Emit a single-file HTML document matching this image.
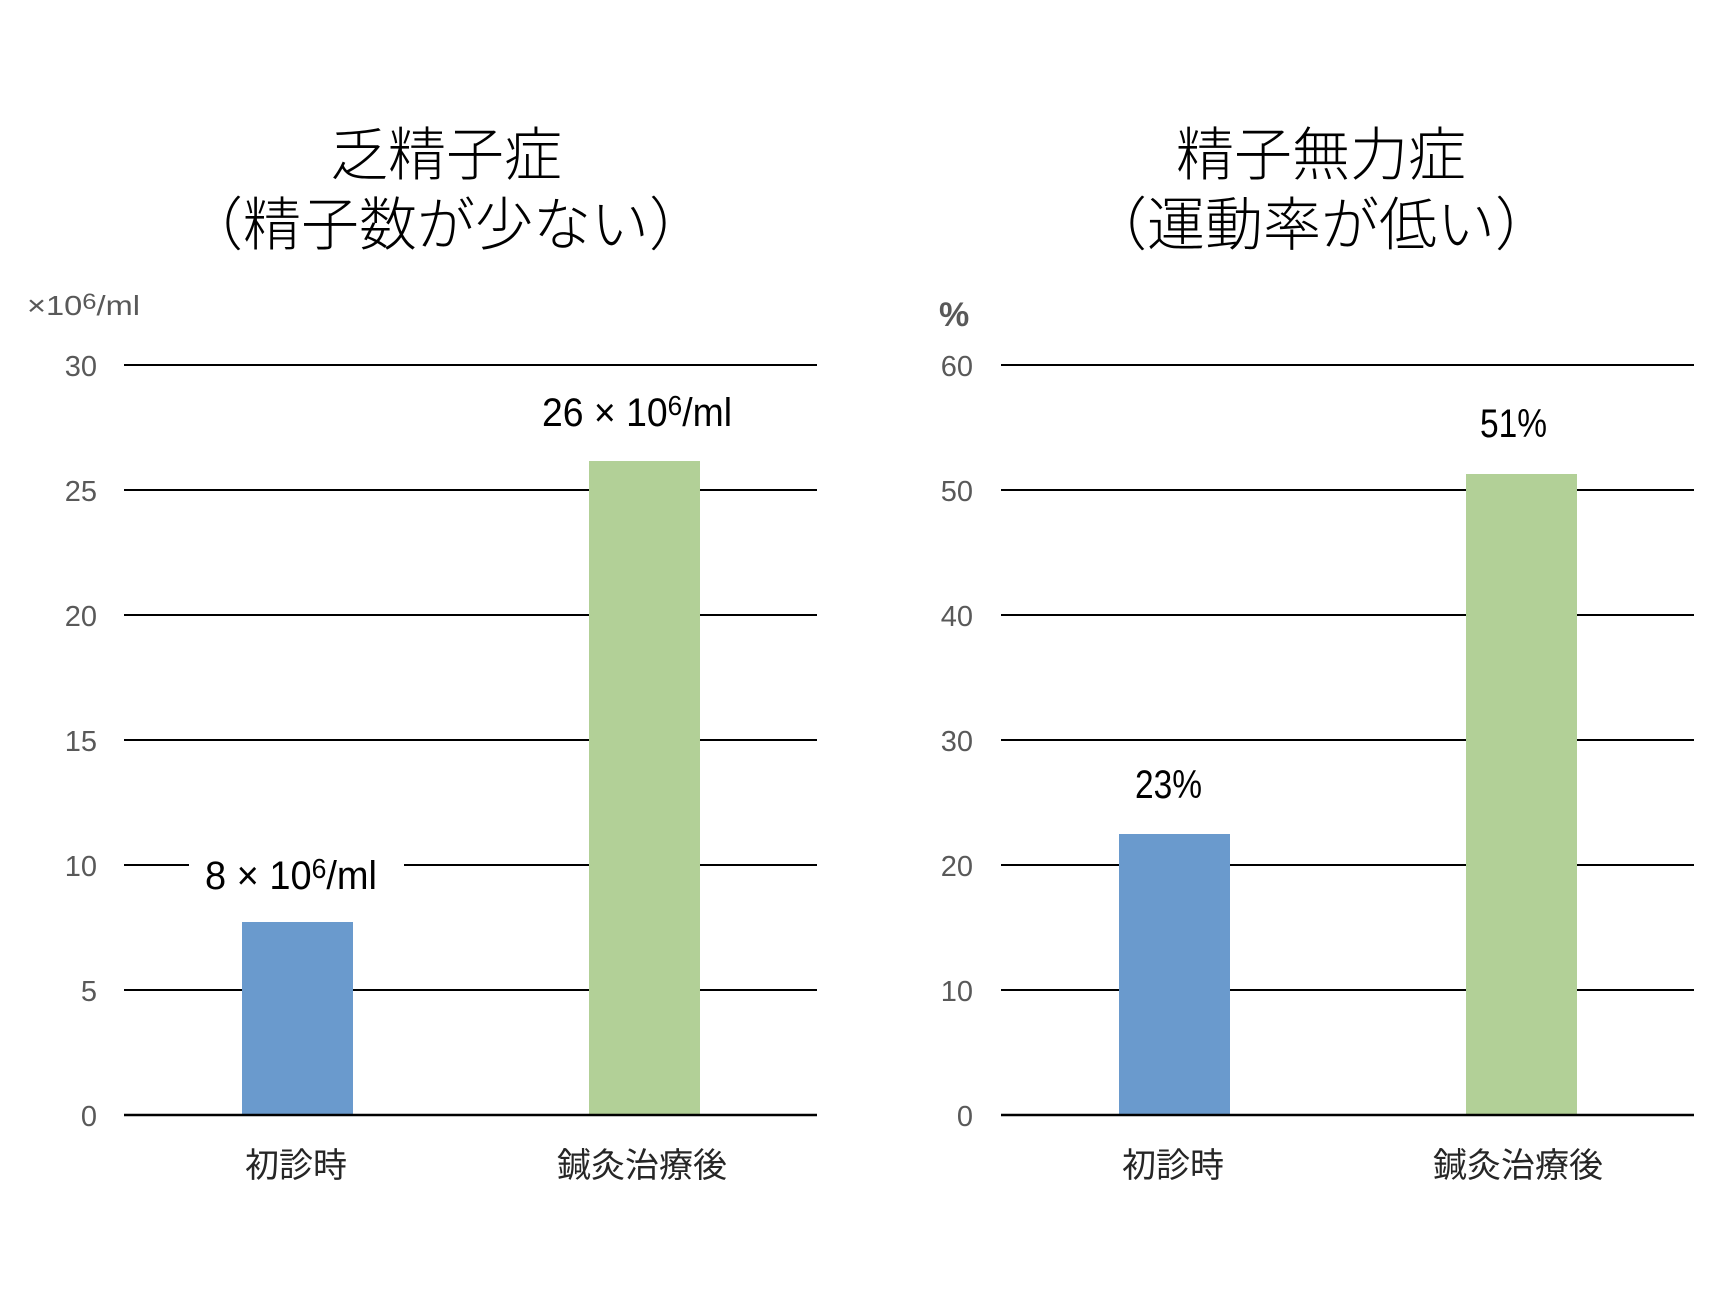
<!DOCTYPE html>
<html><head><meta charset="utf-8">
<style>
html,body{margin:0;padding:0;background:#fff;}
svg{display:block;}
</style></head>
<body>
<svg width="1728" height="1294" viewBox="0 0 1728 1294" xmlns="http://www.w3.org/2000/svg">
<rect width="1728" height="1294" fill="#fff"/>

<!-- Titles -->
<g font-family="'Noto Sans CJK JP','Noto Sans CJK SC',sans-serif" font-size="58" font-weight="300" fill="#000" text-anchor="middle">
  <text x="446" y="175">乏精子症</text>
  <text x="446" y="245">（精子数が少ない）</text>
  <text x="1321" y="175">精子無力症</text>
  <text x="1321" y="245">（運動率が低い）</text>
</g>

<!-- Units -->
<text x="27" y="315" font-family="'Liberation Sans',sans-serif" font-size="28" fill="#595959" textLength="113" lengthAdjust="spacingAndGlyphs">×10<tspan font-size="22" dy="-6">6</tspan><tspan dy="6">/ml</tspan></text>
<text x="939" y="326" font-family="'Liberation Sans',sans-serif" font-size="34" font-weight="bold" fill="#595959">%</text>

<!-- Gridlines -->
<g stroke="#000" stroke-width="2">
  <line x1="124" y1="365" x2="817" y2="365"/>
  <line x1="124" y1="490" x2="817" y2="490"/>
  <line x1="124" y1="615" x2="817" y2="615"/>
  <line x1="124" y1="740" x2="817" y2="740"/>
  <line x1="124" y1="865" x2="817" y2="865"/>
  <line x1="124" y1="990" x2="817" y2="990"/>
  <line x1="1001" y1="365" x2="1694" y2="365"/>
  <line x1="1001" y1="490" x2="1694" y2="490"/>
  <line x1="1001" y1="615" x2="1694" y2="615"/>
  <line x1="1001" y1="740" x2="1694" y2="740"/>
  <line x1="1001" y1="865" x2="1694" y2="865"/>
  <line x1="1001" y1="990" x2="1694" y2="990"/>
</g>

<!-- Tick labels -->
<g font-family="'Liberation Sans',sans-serif" font-size="29" fill="#595959" text-anchor="end">
  <text x="97" y="376">30</text>
  <text x="97" y="501">25</text>
  <text x="97" y="626">20</text>
  <text x="97" y="751">15</text>
  <text x="97" y="876">10</text>
  <text x="97" y="1001">5</text>
  <text x="97" y="1126">0</text>
  <text x="973" y="376">60</text>
  <text x="973" y="501">50</text>
  <text x="973" y="626">40</text>
  <text x="973" y="751">30</text>
  <text x="973" y="876">20</text>
  <text x="973" y="1001">10</text>
  <text x="973" y="1126">0</text>
</g>

<!-- Bars -->
<rect x="242" y="922" width="111" height="193" fill="#6A9ACD"/>
<rect x="589" y="461" width="111" height="654" fill="#B2D097"/>
<rect x="1119" y="834" width="111" height="281" fill="#6A9ACD"/>
<rect x="1466" y="474" width="111" height="641" fill="#B2D097"/>

<!-- Zero lines -->
<g stroke="#000" stroke-width="2.5">
  <line x1="124" y1="1115" x2="817" y2="1115"/>
  <line x1="1001" y1="1115" x2="1694" y2="1115"/>
</g>

<!-- Data labels -->
<rect x="189" y="850" width="215" height="30" fill="#fff"/>
<g font-family="'Liberation Sans',sans-serif" font-size="40" fill="#000">
  <text x="205" y="889" textLength="172" lengthAdjust="spacingAndGlyphs">8 × 10<tspan font-size="28" dy="-11">6</tspan><tspan dy="11">/ml</tspan></text>
  <text x="542" y="426" textLength="190" lengthAdjust="spacingAndGlyphs">26 × 10<tspan font-size="28" dy="-11">6</tspan><tspan dy="11">/ml</tspan></text>
  <text x="1135" y="798" textLength="67" lengthAdjust="spacingAndGlyphs">23%</text>
  <text x="1480" y="437" textLength="67" lengthAdjust="spacingAndGlyphs">51%</text>
</g>

<!-- Category labels -->
<g font-family="'Noto Sans CJK JP','Noto Sans CJK SC',sans-serif" font-size="34" fill="#262626" text-anchor="middle">
  <text x="296" y="1177">初診時</text>
  <text x="642" y="1177">鍼灸治療後</text>
  <text x="1173" y="1177">初診時</text>
  <text x="1518" y="1177">鍼灸治療後</text>
</g>
</svg>
</body></html>
